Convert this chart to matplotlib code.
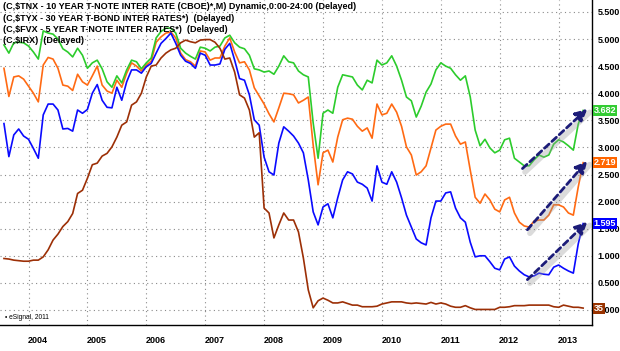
import matplotlib
matplotlib.use('Agg')
import matplotlib.pyplot as plt
import numpy as np
from matplotlib.transforms import offset_copy, blended_transform_factory

plt.rcParams['font.family'] = ['Liberation Sans', 'DejaVu Sans']
plt.rcParams['font.weight'] = 'bold'

# monthly closes, Aug 2003 .. Jun 2013
start = 2003 + 7 / 12

tnx = [4.46, 3.94, 4.30, 4.32, 4.26, 4.13, 4.00, 3.84, 4.52, 4.66,
       4.63, 4.46, 4.15, 4.13, 4.05, 4.35, 4.21, 4.15, 4.32, 4.50,
       4.15, 4.04, 4.00, 4.24, 4.11, 4.37, 4.56, 4.50, 4.41, 4.52,
       4.59, 4.94, 5.04, 5.11, 5.13, 5.02, 4.74, 4.62, 4.58, 4.50,
       4.78, 4.76, 4.61, 4.65, 4.65, 4.87, 5.02, 4.76, 4.56, 4.58,
       4.43, 4.10, 3.95, 3.80, 3.62, 3.47, 3.73, 4.00, 3.99, 3.97,
       3.82, 3.87, 3.93, 3.04, 2.31, 2.90, 2.95, 2.73, 3.19, 3.51,
       3.54, 3.52, 3.39, 3.30, 3.36, 3.17, 3.80, 3.60, 3.63, 3.80,
       3.65, 3.39, 3.01, 2.86, 2.49, 2.55, 2.66, 2.99, 3.32, 3.39,
       3.43, 3.43, 3.21, 3.06, 3.10, 2.58, 2.08, 1.97, 2.14, 2.03,
       1.86, 1.81, 2.03, 2.08, 1.79, 1.62, 1.55, 1.53, 1.64, 1.66,
       1.66, 1.75, 1.94, 1.94, 1.90, 1.79, 1.75, 2.27, 2.719]

tyx = [4.89, 4.74, 4.93, 4.94, 4.93, 4.87, 4.76, 4.63, 5.15, 5.11,
       5.09, 5.00, 4.82, 4.76, 4.67, 4.83, 4.70, 4.46, 4.56, 4.61,
       4.45, 4.21, 4.11, 4.32, 4.19, 4.43, 4.61, 4.58, 4.45, 4.56,
       4.65, 5.02, 5.14, 5.20, 5.20, 5.11, 4.83, 4.74, 4.68, 4.63,
       4.85, 4.83, 4.78, 4.85, 4.87, 5.02, 5.07, 4.93, 4.85, 4.82,
       4.70, 4.45, 4.43, 4.39, 4.41, 4.35, 4.50, 4.69, 4.58, 4.56,
       4.41, 4.34, 4.30, 3.45, 2.80, 3.63, 3.69, 3.63, 4.11, 4.34,
       4.32, 4.30, 4.15, 4.06, 4.24, 4.19, 4.61, 4.52, 4.56, 4.69,
       4.50, 4.24, 3.93, 3.86, 3.56, 3.76, 4.02, 4.17, 4.43, 4.56,
       4.50, 4.46, 4.34, 4.24, 4.32, 3.93, 3.32, 3.03, 3.15, 2.99,
       2.90, 2.95, 3.14, 3.17, 2.80, 2.73, 2.66, 2.66, 2.77, 2.86,
       2.82, 2.86, 3.06, 3.14, 3.10, 3.03, 2.95, 3.43, 3.682]

fvx = [3.44, 2.83, 3.23, 3.34, 3.21, 3.15, 2.98, 2.80, 3.60, 3.80,
       3.80, 3.69, 3.34, 3.35, 3.30, 3.69, 3.63, 3.70, 4.00, 4.16,
       3.87, 3.74, 3.73, 4.11, 3.87, 4.21, 4.43, 4.43, 4.37, 4.49,
       4.55, 4.74, 4.92, 5.01, 5.11, 4.92, 4.70, 4.59, 4.55, 4.46,
       4.74, 4.70, 4.52, 4.52, 4.54, 4.81, 4.92, 4.61, 4.27, 4.24,
       3.97, 3.51, 3.41, 2.82, 2.55, 2.49, 3.08, 3.38, 3.30, 3.21,
       3.08, 2.90, 2.40, 1.81, 1.57, 1.90, 1.96, 1.70, 2.07, 2.40,
       2.55, 2.51, 2.36, 2.32, 2.25, 2.01, 2.66, 2.36, 2.32, 2.55,
       2.36, 2.07, 1.75, 1.53, 1.31, 1.24, 1.20, 1.70, 2.01, 2.01,
       2.16, 2.18, 1.88, 1.70, 1.62, 1.25, 0.98, 1.00, 1.00, 0.89,
       0.77, 0.74, 0.94, 0.98, 0.81, 0.72, 0.65, 0.61, 0.63, 0.68,
       0.66, 0.65, 0.79, 0.83, 0.77, 0.72, 0.68, 1.22, 1.595]

irx = [0.95, 0.94, 0.92, 0.91, 0.90, 0.90, 0.92, 0.92, 0.98, 1.11,
       1.29, 1.40, 1.54, 1.63, 1.78, 2.15, 2.21, 2.43, 2.68, 2.71,
       2.84, 2.89, 3.01, 3.19, 3.41, 3.47, 3.78, 3.84, 4.00, 4.30,
       4.50, 4.52, 4.65, 4.74, 4.80, 4.83, 4.93, 4.98, 4.95, 4.93,
       4.98, 4.99, 4.99, 4.94, 4.83, 4.63, 4.65, 4.39, 3.97, 3.91,
       3.69, 3.19, 3.27, 1.88, 1.79, 1.33, 1.57, 1.79, 1.66, 1.66,
       1.44, 0.96, 0.37, 0.04, 0.17, 0.22, 0.18, 0.13, 0.13, 0.15,
       0.12, 0.09, 0.09, 0.06, 0.06, 0.06, 0.07, 0.11, 0.13, 0.15,
       0.15, 0.15, 0.13, 0.12, 0.13, 0.12, 0.11, 0.14, 0.11, 0.13,
       0.11, 0.07, 0.05, 0.05, 0.08, 0.04, 0.01, 0.01, 0.01, 0.01,
       0.01, 0.05, 0.05, 0.06, 0.08, 0.08, 0.08, 0.09, 0.09, 0.09,
       0.09, 0.09, 0.06, 0.05, 0.09, 0.07, 0.05, 0.05, 0.035]

years = list(range(2004, 2014))
legend_lines = [
    r'(C,\$TNX - 10 YEAR T-NOTE INTER RATE (CBOE)*,M) Dynamic,0:00-24:00 (Delayed)',
    r'(C,\$TYX - 30 YEAR T-BOND INTER RATES*)  (Delayed)',
    r'(C,\$FVX - 5 YEAR T-NOTE INTER RATES*)  (Delayed)',
    r'(C,\$IRX)  (Delayed)',
]
end_labels = ['2.719', '3.682', '1.595', '35']

line_colors = ['#ff6a13', '#2ccc2c', '#0a0aff', '#9c2f06']
box_colors = ['#ff6600', '#33cc33', '#0000ff', '#993300']
navy = '#1c1c78'

series = [tnx, tyx, fvx, irx]
t = start + np.arange(len(tnx)) / 12

fig = plt.figure(figsize=(6.2, 3.51), dpi=100)
ax = fig.add_axes([0, 26 / 351, 592 / 620, 325 / 351])

for s, c in zip(series, line_colors):
    ax.plot(t, s, color=c, lw=1.2, zorder=3)

ax.set_xlim(2003.516, 2013.567)
ax.set_ylim(-0.277, 5.72)

# grid / ticks
ax.set_xticks(years)
ax.set_xticklabels([''] * len(years))
ax.set_xticks([y + 0.16 for y in years], minor=True)
ax.set_xticklabels([str(y) for y in years], minor=True, fontsize=6.5)
ax.tick_params(axis='x', which='both', length=0, pad=8)

ax.yaxis.tick_right()
ax.set_yticks(np.arange(0, 5.51, 0.5))
ax.set_yticklabels(['%.3f' % v for v in np.arange(0, 5.51, 0.5)], fontsize=6.5)
ax.tick_params(axis='y', length=0, pad=4)

ax.grid(True, which='major', color='#8a8a8a', linestyle=(0, (1, 3)), linewidth=0.8)
ax.set_axisbelow(True)

for side in ['left', 'top']:
    ax.spines[side].set_visible(False)
for side in ['right', 'bottom']:
    ax.spines[side].set_color('black')
    ax.spines[side].set_linewidth(1.0)

# legend text in the corner
for k, txt in enumerate(legend_lines):
    ax.text(0.005, 1 - (6.7 + 11.4 * k) / 325, txt, transform=ax.transAxes,
            fontsize=6.5, va='center', ha='left', zorder=5)

ax.text(0.008, 0.022, '\u2022 eSignal, 2011', transform=ax.transAxes,
        fontsize=4.8, fontweight='normal', va='center', ha='left')

# last value boxes on the right axis
tr = blended_transform_factory(ax.transAxes, ax.transData)
for s, lab, bc in zip(series, end_labels, box_colors):
    ax.text(1.003, s[-1], lab, transform=tr, fontsize=6.5, color='white',
            va='center', ha='left', clip_on=False, zorder=6,
            bbox=dict(boxstyle='square,pad=0.12', fc=bc, ec='none'))

# dashed trend arrows from the 2012 lows
shadow_tr = offset_copy(ax.transData, fig=fig, x=2.5, y=-3.5, units='dots')
for s in [tyx, tnx, fvx]:
    seg = np.array(s[100:114])
    k = 100 + int(np.argmin(seg))
    tail = (t[k] - 0.03, s[k] - 0.05)
    head = (t[-1] + 0.07, s[-1] + 0.03)
    ax.plot([tail[0], head[0]], [tail[1], head[1]], color='#9a9a9a', lw=4,
            alpha=0.35, transform=shadow_tr, solid_capstyle='round', zorder=3.5)
    ax.annotate('', xy=head, xytext=tail,
                arrowprops=dict(arrowstyle='-|>,head_length=0.7,head_width=0.35',
                                color=navy, lw=2.0, linestyle=(0, (2.2, 1.4)),
                                shrinkA=0, shrinkB=0),
                zorder=4)

fig.savefig('out.png', dpi=100, facecolor='white')
